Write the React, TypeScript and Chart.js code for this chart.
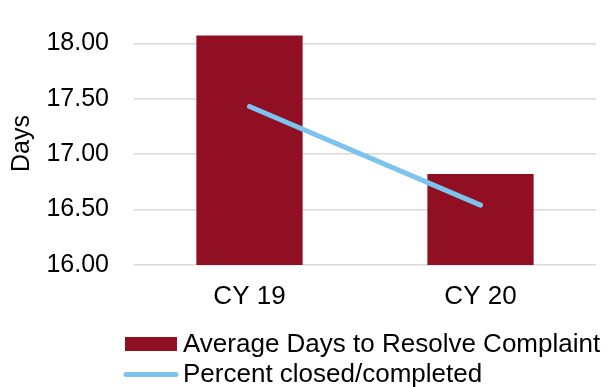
import React, { useEffect, useRef } from "react";
import { Chart, registerables } from "chart.js";

Chart.register(...registerables);

const categories = ["CY 19", "CY 20"];
const avgDays = [18.07, 16.82];
const percentClosed = [17.43, 16.54];
const yTicks = [16, 16.5, 17, 17.5, 18];
const yTitle = "Days";
const barLabel = "Average Days to Resolve Complaint";
const lineLabel = "Percent closed/completed";

const BAR_COLOR = "#900F22";
const LINE_COLOR = "#7CC3EE";
const FONT = "'Liberation Sans', Arial, sans-serif";

const legendPlugin = {
  id: "customLegend",
  afterDraw(chart: any) {
    const ctx = chart.ctx;
    ctx.save();
    ctx.font = `26px ${FONT}`;
    ctx.textBaseline = "alphabetic";
    ctx.textAlign = "left";
    ctx.fillStyle = BAR_COLOR;
    ctx.fillRect(125, 337, 52, 14);
    ctx.fillStyle = "#000";
    ctx.fillText(barLabel, 183, 351.5);
    ctx.strokeStyle = LINE_COLOR;
    ctx.lineWidth = 5;
    ctx.lineCap = "round";
    ctx.beginPath();
    ctx.moveTo(126, 374.5);
    ctx.lineTo(176, 374.5);
    ctx.stroke();
    ctx.fillText(lineLabel, 183, 382.3);
    // y-axis title
    ctx.translate(22, 143.5);
    ctx.rotate(-Math.PI / 2);
    ctx.textAlign = "center";
    ctx.textBaseline = "middle";
    ctx.font = `25px ${FONT}`;
    ctx.fillText(yTitle, 0, 0);
    ctx.restore();
  },
};

export default function App() {
  const ref = useRef<HTMLCanvasElement | null>(null);
  useEffect(() => {
    if (!ref.current) return;
    const chart = new Chart(ref.current, {
      type: "bar",
      data: {
        labels: categories,
        datasets: [
          {
            type: "line",
            label: lineLabel,
            data: percentClosed,
            borderColor: LINE_COLOR,
            backgroundColor: LINE_COLOR,
            borderWidth: 5,
            borderCapStyle: "round",
            pointRadius: 0,
            tension: 0,
            order: 0,
          } as any,
          {
            type: "bar",
            label: barLabel,
            data: avgDays,
            backgroundColor: BAR_COLOR,
            barPercentage: 0.46,
            categoryPercentage: 1,
            order: 1,
          },
        ],
      },
      options: {
        animation: false,
        responsive: false,
        maintainAspectRatio: false,
        layout: { padding: { top: 10, right: 16, bottom: 67, left: 0 } },
        plugins: {
          legend: { display: false },
          tooltip: { enabled: false },
        },
        scales: {
          x: {
            grid: { display: false, drawTicks: false },
            border: { display: false },
            ticks: {
              color: "#000",
              font: { family: FONT, size: 26 },
              padding: 16,
            },
            afterFit: (s: any) => {
              s.height = 55;
              s.paddingLeft = 0;
              s.paddingRight = 0;
            },
          },
          y: {
            min: 16,
            max: 18.3,
            afterBuildTicks: (s: any) => {
              s.ticks = yTicks.map((v) => ({ value: v }));
            },
            grid: { color: "#d9d9d9", lineWidth: 1.5, drawTicks: false },
            border: { display: false },
            ticks: {
              color: "#000",
              font: { family: FONT, size: 25 },
              padding: 25,
              callback: (v: any) => Number(v).toFixed(2),
            },
            title: { display: false },
            afterFit: (s: any) => {
              s.width = 134;
              s.paddingTop = 0;
              s.paddingBottom = 0;
            },
          },
        },
      },
      plugins: [legendPlugin],
    });
    return () => chart.destroy();
  }, []);
  return (
    <div style={{ position: "fixed", left: 0, top: 0, width: 612, height: 387, background: "#fff" }}>
      <canvas ref={ref} width={612} height={387} />
    </div>
  );
}
